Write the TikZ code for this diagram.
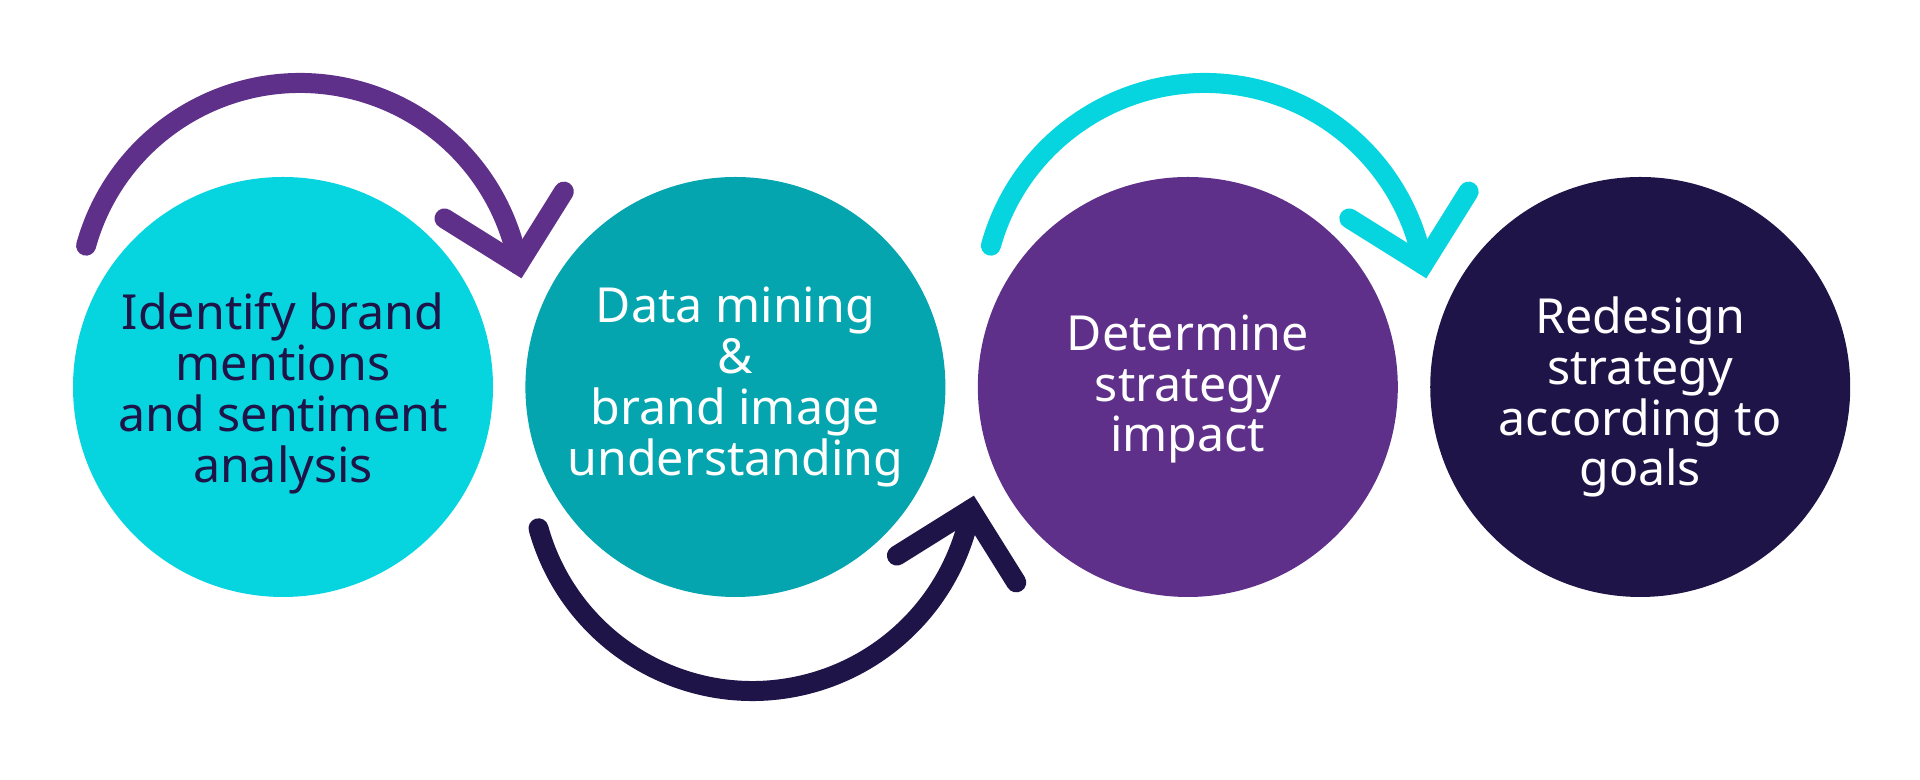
\documentclass[tikz,border=0pt]{standalone}
\usepackage{fontspec}
\setmainfont{Noto Sans}
\usepackage{xcolor}
\usepackage{tikz}
\usetikzlibrary{calc,positioning}
\definecolor{stepcyan}{HTML}{06D5DF}
\definecolor{stepteal}{HTML}{04A5AE}
\definecolor{steppurple}{HTML}{5F3089}
\definecolor{stepnavy}{HTML}{1F1448}
\tikzset{
  stepcircle/.style={circle,minimum size=4.2cm,inner sep=0pt},
  steptext/.style={align=center,inner sep=0pt,font=\fontsize{13.75}{14.5}\selectfont},
  turnarc/.style={line width=0.2cm,line cap=round,line join=miter}
}

\begin{document}
\begin{tikzpicture}
\useasboundingbox (0,0) rectangle (19.2,7.8);
\node[stepcircle,fill=stepcyan] (c1) at (2.83,3.93) {};
\node[stepcircle,fill=stepteal,right=0.31cm of c1] (c2) {};
\node[stepcircle,fill=steppurple,right=0.31cm of c2] (c3) {};
\node[stepcircle,fill=stepnavy,right=0.31cm of c3] (c4) {};
\node[steptext,text=stepnavy] (t1) at ($(c1)+(0,-0.06)$) {Identify brand\\mentions\\and sentiment\\analysis};
\node[steptext,text=white] (t2) at (c2) {Data mining\\\&\\brand image\\understanding};
\node[steptext,text=white] (t3) at ($(c3)+(0,-0.02)$) {Determine\\strategy\\impact};
\node[steptext,text=white] (t4) at ($(c4)+(0,-0.10)$) {Redesign\\strategy\\according to\\goals};
% turn arrows between the steps
\draw[turnarc,steppurple] ($(c1)+(0.17,0.82)+(164.5:2.22)$) arc[start angle=164.5,end angle=10.5,radius=2.22] coordinate (v1);
\draw[turnarc,steppurple] ($(v1)+(148:0.87)$) -- (v1) -- ($(v1)+(58:0.86)$);
\draw[turnarc,stepnavy] ($(c2)+(0.17,-0.82)+(-164.5:2.22)$) arc[start angle=-164.5,end angle=-10.5,radius=2.22] coordinate (v2);
\draw[turnarc,stepnavy] ($(v2)+(-148:0.87)$) -- (v2) -- ($(v2)+(-58:0.86)$);
\draw[turnarc,stepcyan] ($(c3)+(0.17,0.82)+(164.5:2.22)$) arc[start angle=164.5,end angle=10.5,radius=2.22] coordinate (v3);
\draw[turnarc,stepcyan] ($(v3)+(148:0.87)$) -- (v3) -- ($(v3)+(58:0.86)$);
\end{tikzpicture}
\end{document}
